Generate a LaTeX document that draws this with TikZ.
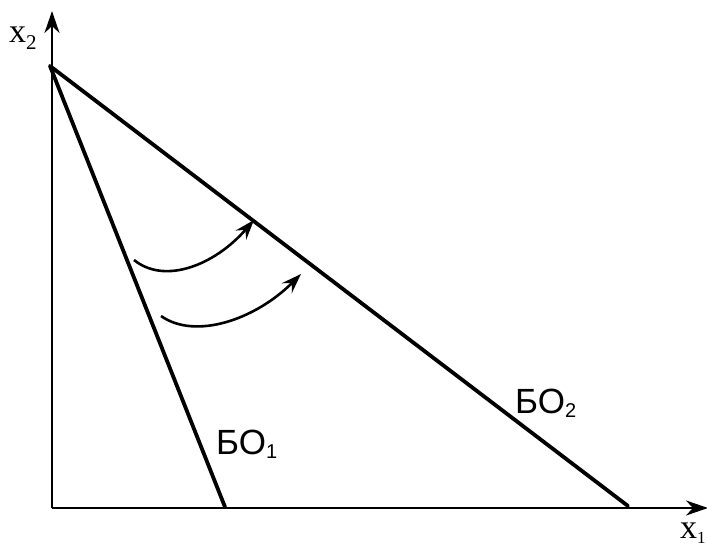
\documentclass[tikz,border=0pt]{standalone}
\usepackage{fontspec}
\setmainfont{Liberation Serif}
\newfontfamily\lsans{Liberation Sans}
\usetikzlibrary{arrows.meta}
\tikzset{
  axis/.style={line width=2.4pt, -{Stealth[length=22pt,width=15pt,inset=7pt]}},
  bound/.style={line width=3.8pt, line cap=round},
  flow/.style={line width=2.6pt, -{Stealth[length=20pt,width=14pt,inset=7pt]}},
  axlabel/.style={inner sep=0pt, anchor=base west, font=\fontsize{34}{34}\selectfont},
  bolabel/.style={inner sep=0pt, anchor=base west, font=\lsans\fontsize{35}{35}\selectfont}
}
\begin{document}
\begin{tikzpicture}[x=1pt,y=-1pt]
\useasboundingbox (0,0) rectangle (707,551);
\coordinate (O) at (52,508);
\coordinate (Ytop) at (52,11);
\coordinate (Xend) at (708,508);
\coordinate (A) at (50,66);
\coordinate (B1) at (225,507);
\coordinate (B2) at (628,506);
\draw[axis] (O) -- (Ytop);
\draw[axis] (O) -- (Xend);
\draw[bound] (A) -- (B1);
\draw[bound] (A) -- (B2);
\coordinate (s1) at (134,260);
\coordinate (e1) at (254,220);
\coordinate (s2) at (161,316);
\coordinate (e2) at (301,274);
\draw[flow] (s1) .. controls (165,285) and (215,265) .. (e1);
\draw[flow] (s2) .. controls (195,340) and (255,320) .. (e2);
\node[axlabel] (x2) at (9,43) {x\raisebox{-7pt}{\fontsize{21}{21}\selectfont 2}};
\node[axlabel] (x1) at (680,538) {x\raisebox{-5pt}{\fontsize{17}{17}\selectfont 1}};
\node[bolabel] (bo1) at (216,454) {БО\raisebox{-4pt}{\fontsize{20}{20}\selectfont 1}};
\node[bolabel] (bo2) at (515,413) {БО\raisebox{-4pt}{\fontsize{20}{20}\selectfont 2}};
\end{tikzpicture}
\end{document}
